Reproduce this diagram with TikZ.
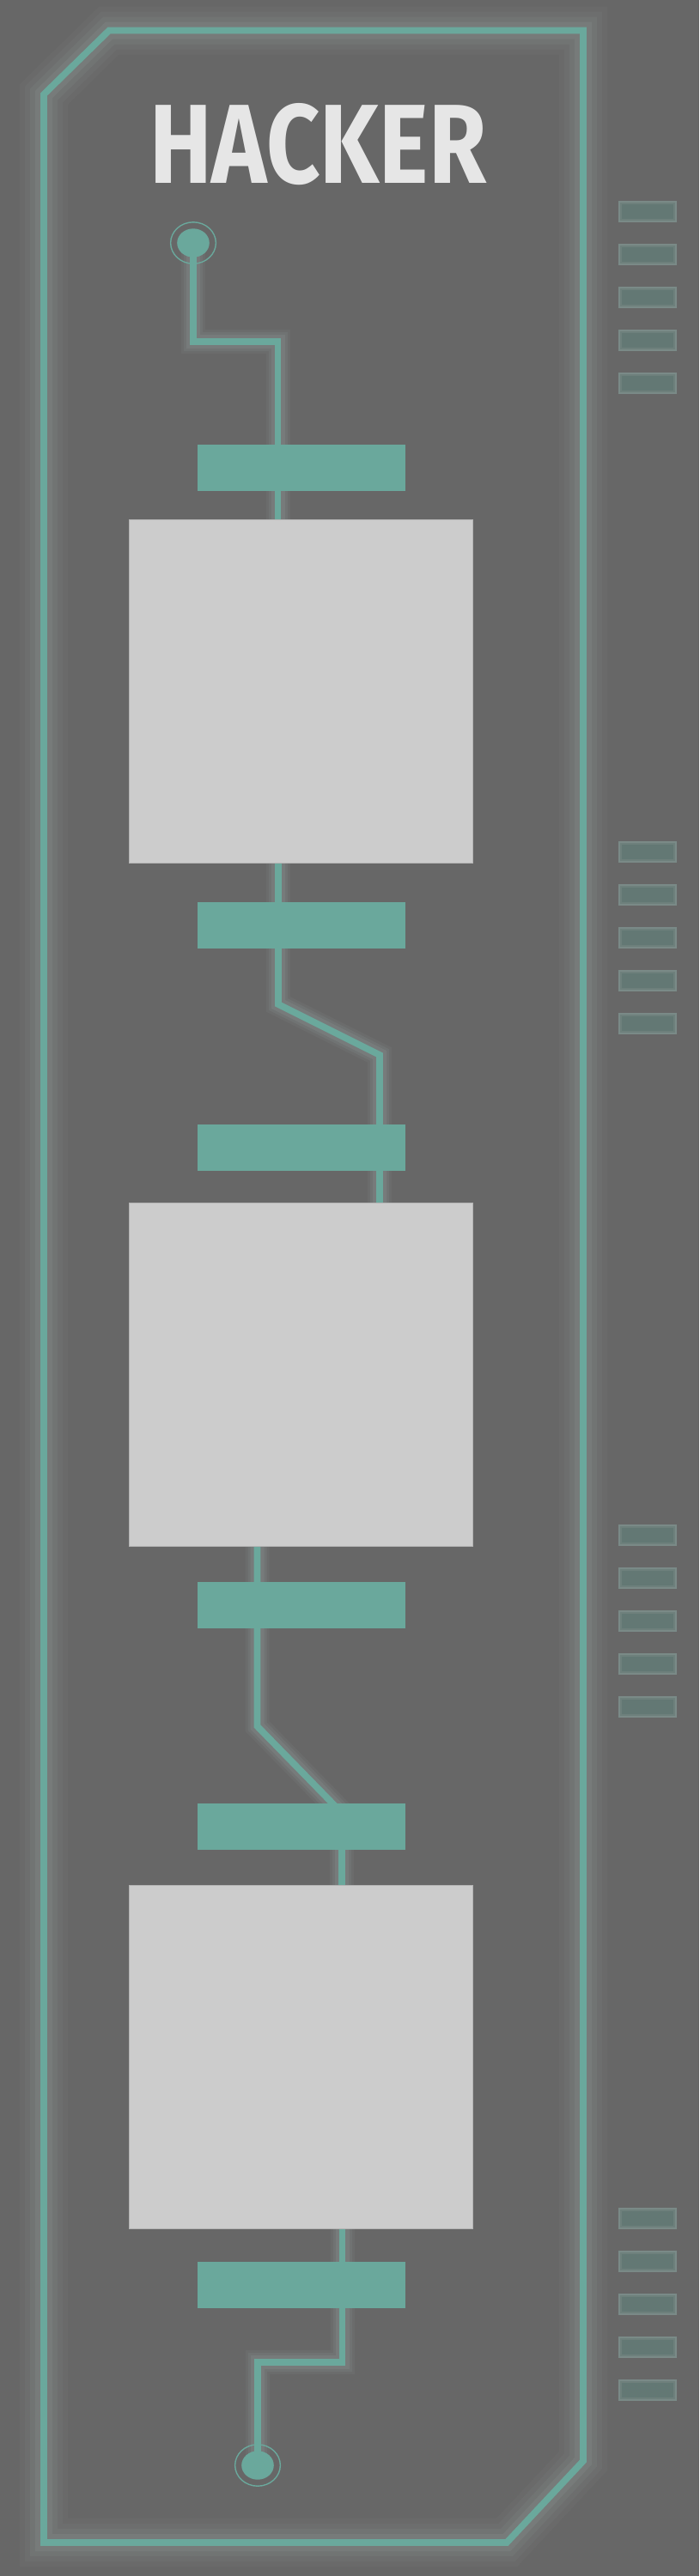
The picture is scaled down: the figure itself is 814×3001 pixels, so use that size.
\documentclass[tikz,border=0pt]{standalone}
\usepackage{fontspec}
\usepackage{graphicx}
\usetikzlibrary{shapes.geometric}
\newfontfamily\titlefont{Fira Sans}
\definecolor{bgc}{RGB}{103,103,103}
\definecolor{tealc}{RGB}{106,168,156}
\definecolor{boxc}{RGB}{204,204,204}
\definecolor{titlec}{RGB}{230,230,230}
\definecolor{glowc}{RGB}{190,214,210}
\definecolor{stripefill}{RGB}{99,120,116}
\definecolor{stripeedge}{RGB}{122,138,135}
\definecolor{stripemid}{RGB}{110,128,124}
\pgfdeclarelayer{back}
\pgfdeclarelayer{glow}
\pgfdeclarelayer{lines}
\pgfsetlayers{back,glow,lines,main}
\tikzset{
  panel/.style={rectangle, fill=boxc, draw=boxc!88!black, line width=0.6pt, inner sep=0pt,
    minimum width=400pt, minimum height=400pt, anchor=north west},
  bar/.style={rectangle, fill=tealc, inner sep=0pt, minimum width=242pt, minimum height=54pt, anchor=north west},
  pad/.style={ellipse, fill=tealc, inner sep=0pt, minimum width=37.6pt, minimum height=33.4pt},
  padring/.style={ellipse, draw=tealc, line width=1.4pt, inner sep=0pt, minimum width=52.7pt, minimum height=48.4pt},
  wire/.style={draw=tealc, line width=7.7pt, line join=miter},
  framewire/.style={draw=tealc, line width=7.7pt, line join=miter},
  stripe/.style={fill=stripefill, draw=stripeedge, line width=2pt},
  stripeinner/.style={draw=stripemid, line width=2pt}
}
\begin{document}
\begin{tikzpicture}[x=1pt,y=-1pt]
\useasboundingbox (0,0) rectangle (814,3001);
\begin{pgfonlayer}{back}
  \fill[bgc] (0,0) rectangle (814,3001);
\end{pgfonlayer}

% title
\node[anchor=base west, inner sep=0pt, text=titlec] (title) at (174,213)
  {\resizebox{392pt}{93pt}{\titlefont\bfseries HACKER}};

% panels
\node[panel] (box1) at (150,605) {};
\node[panel] (box2) at (150,1401) {};
\node[panel] (box3) at (150,2196) {};

% bars
\node[bar] (bar1) at (230,518) {};
\node[bar] (bar2) at (230,1051) {};
\node[bar] (bar3) at (230,1310) {};
\node[bar] (bar4) at (230,1843) {};
\node[bar] (bar5) at (230,2101) {};
\node[bar] (bar6) at (230,2635) {};

% pads
\node[pad] (top) at (225,283) {};
\node[padring] (topring) at (225,283) {};
\node[pad] (bot) at (300,2872) {};
\node[padring] (botring) at (300,2872) {};

% bends
\coordinate (p1a) at (225,398);
\coordinate (p1b) at (323.5,398);
\coordinate (p2a) at (324,1170);
\coordinate (p2b) at (442,1229);
\coordinate (p3a) at (299.5,2011);
\coordinate (p3b) at (398,2112);
\coordinate (p4a) at (398.5,2752);
\coordinate (p4b) at (300,2752);

% frame corners
\coordinate (f1) at (127,35.5);
\coordinate (f2) at (679,35.5);
\coordinate (f3) at (679,2867);
\coordinate (f4) at (590,2962);
\coordinate (f5) at (51,2962);
\coordinate (f6) at (51,110);

\begin{pgfonlayer}{glow}
  \foreach \w/\o in {56/0.035,44/0.045,32/0.06,20/0.08}{
    \draw[draw=glowc, line width=\w pt, opacity=\o, line join=miter]
      (f1) -- (f2) -- (f3) -- (f4) -- (f5) -- (f6) -- cycle;
  }
  \foreach \w/\o in {28/0.05,22/0.07,16/0.09}{
    \draw[draw=glowc, line width=\w pt, opacity=\o, line join=miter]
      (top.center) -- (p1a) -- (p1b) -- (p1b |- box1.north);
    \draw[draw=glowc, line width=\w pt, opacity=\o, line join=miter]
      (p2a |- box1.south) -- (p2a) -- (p2b) -- (p2b |- box2.north);
    \draw[draw=glowc, line width=\w pt, opacity=\o, line join=miter]
      (p3a |- box2.south) -- (p3a) -- (p3b) -- (p3b |- box3.north);
    \draw[draw=glowc, line width=\w pt, opacity=\o, line join=miter]
      (p4a |- box3.south) -- (p4a) -- (p4b) -- (bot.center);
  }
\end{pgfonlayer}

\begin{pgfonlayer}{lines}
  \draw[framewire] (f1) -- (f2) -- (f3) -- (f4) -- (f5) -- (f6) -- cycle;
  \draw[wire] (top.center) -- (p1a) -- (p1b) -- (p1b |- box1.north);
  \draw[wire] (p2a |- box1.south) -- (p2a) -- (p2b) -- (p2b |- box2.north);
  \draw[wire] (p3a |- box2.south) -- (p3a) -- (p3b) -- (p3b |- box3.north);
  \draw[wire] (p4a |- box3.south) -- (p4a) -- (p4b) -- (bot.center);
\end{pgfonlayer}

% side stripes
\foreach \g in {234,980,1776,2572}{
  \foreach \i in {0,...,4}{
    \draw[stripe] (721,{\g+\i*50+1}) rectangle ++(66,23);
    \draw[stripeinner] (723,{\g+\i*50+3}) rectangle ++(62,19);
  }
}
\end{tikzpicture}
\end{document}
